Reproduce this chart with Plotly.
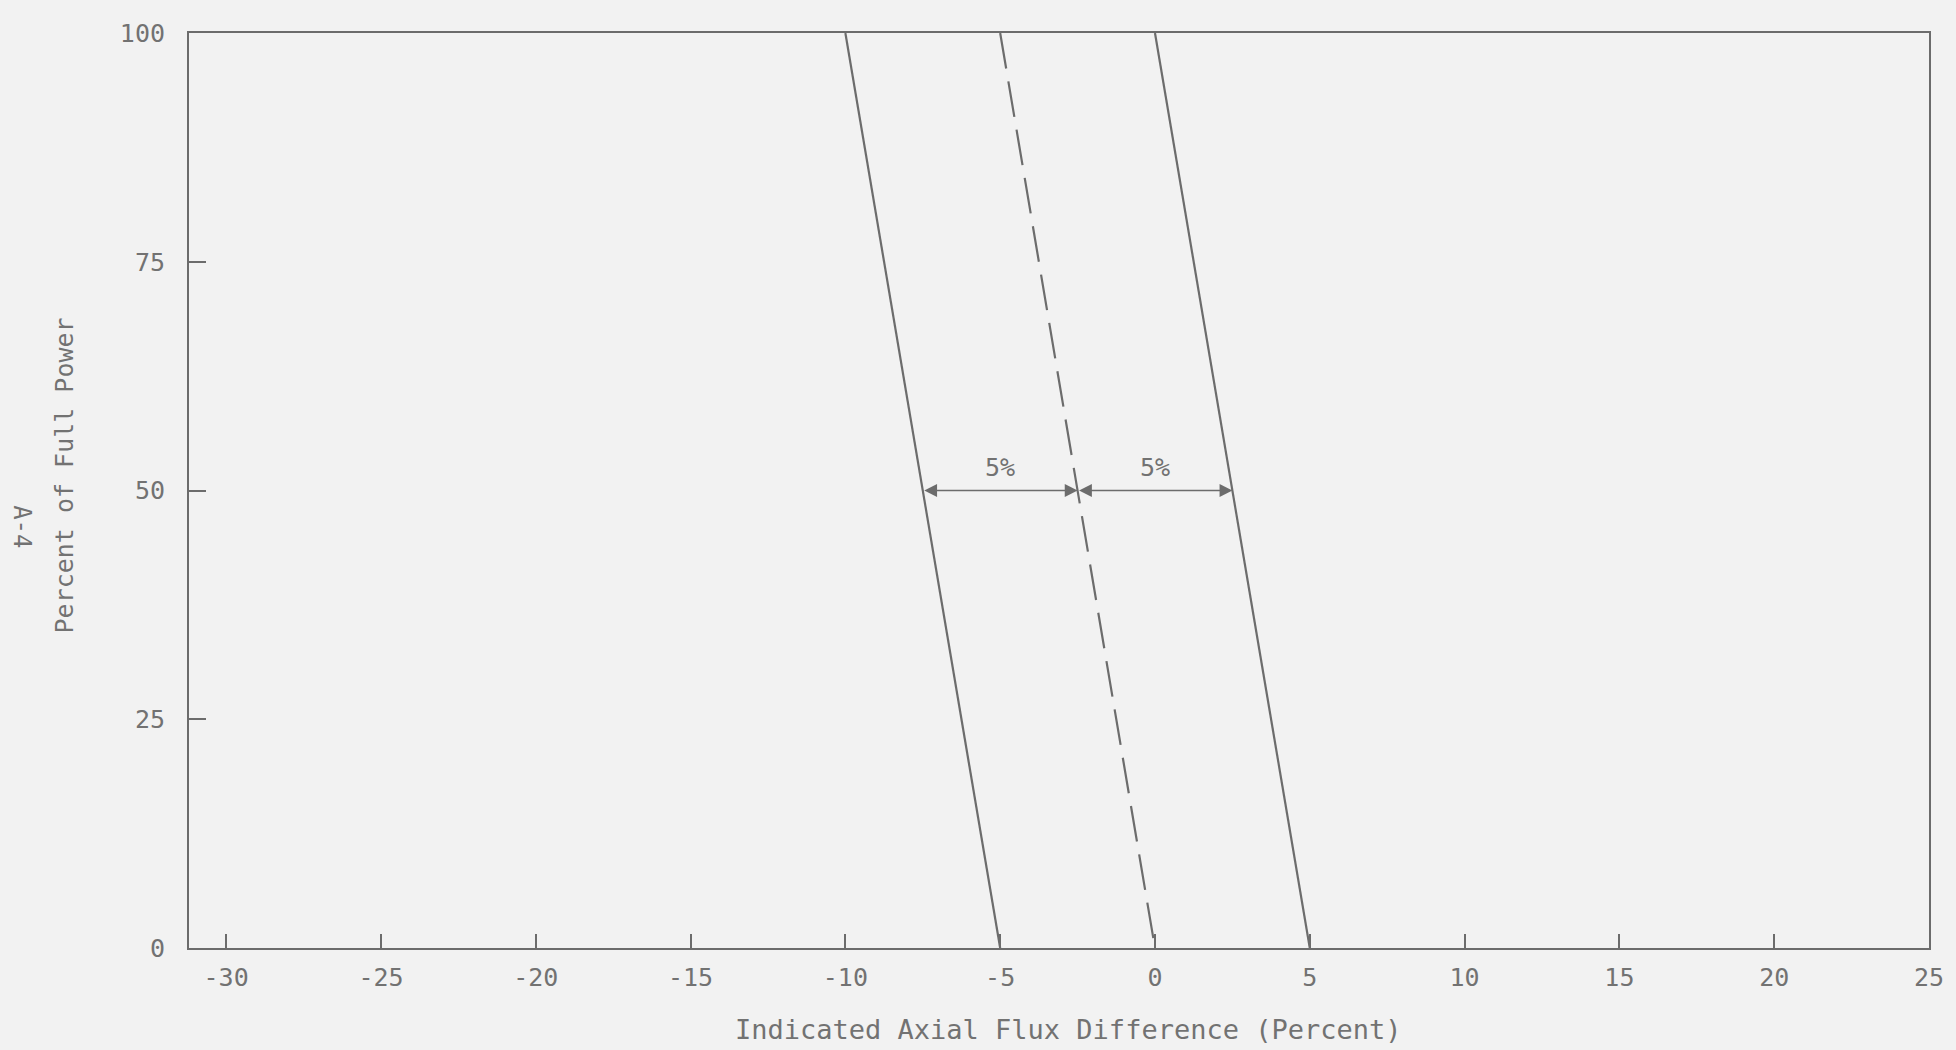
import plotly.graph_objects as go

# Data
power = [0, 100]                      # Percent of Full Power
lower_limit = [-5, -10]               # left solid band edge (AFD at 0%, 100% power)
target = [0, -5]                      # dashed target line
upper_limit = [5, 0]                  # right solid band edge
band_y = 50
band_x = [-7.5, -2.5, 2.5]            # arrow endpoints at 50% power
band_labels = ["5%", "5%"]
label_x = [-5, 0]
x_ticks = [-30, -25, -20, -15, -10, -5, 0, 5, 10, 15, 20, 25]
y_ticks = [0, 25, 50, 75, 100]

LINE = "#6c6c6c"
TEXT = "#727272"
BG = "#f2f2f2"
FONT = "DejaVu Sans Mono"

fig = go.Figure()
fig.add_trace(go.Scatter(x=lower_limit, y=power, mode="lines",
                         line=dict(color=LINE, width=2.2), showlegend=False))
# dashed line drawn from the top so the first dash meets the frame
fig.add_trace(go.Scatter(x=target[::-1], y=power[::-1], mode="lines",
                         line=dict(color=LINE, width=2.2, dash="36px,13px"), showlegend=False))
fig.add_trace(go.Scatter(x=upper_limit, y=power, mode="lines",
                         line=dict(color=LINE, width=2.2), showlegend=False))

for i in range(2):
    fig.add_annotation(x=band_x[i + 1], y=band_y, ax=band_x[i], ay=band_y,
                       xref="x", yref="y", axref="x", ayref="y",
                       text="", showarrow=True, arrowside="end+start",
                       arrowhead=2, arrowsize=1.6, arrowwidth=1.6, arrowcolor=LINE)
    fig.add_annotation(x=label_x[i], y=band_y + 2.5, xref="x", yref="y",
                       text=band_labels[i], showarrow=False,
                       xanchor="center", yanchor="middle",
                       font=dict(family=FONT, size=25, color=TEXT))

fig.add_annotation(xref="paper", yref="paper", x=-0.0715, y=0.516,
                   text="Percent of Full Power", textangle=-90, showarrow=False,
                   xanchor="center", yanchor="middle",
                   font=dict(family=FONT, size=25, color=TEXT))
fig.add_annotation(xref="paper", yref="paper", x=-0.096, y=0.46,
                   text="A-4", textangle=90, showarrow=False,
                   xanchor="center", yanchor="middle",
                   font=dict(family=FONT, size=24, color=TEXT))
fig.add_annotation(xref="paper", yref="paper", x=0.505, y=-0.0896,
                   text="Indicated Axial Flux Difference (Percent)", showarrow=False,
                   xanchor="center", yanchor="middle",
                   font=dict(family=FONT, size=27, color=TEXT))

fig.update_xaxes(range=[-31.2, 25], tickvals=x_ticks, ticktext=[str(v) for v in x_ticks],
                 showgrid=False, zeroline=False, showline=True, linecolor=LINE, linewidth=2,
                 mirror=True, ticks="inside", ticklen=14, tickwidth=2, tickcolor=LINE,
                 tickfont=dict(family=FONT, size=25, color=TEXT), ticklabelstandoff=6)
fig.update_yaxes(range=[0, 100], tickvals=y_ticks, ticktext=[str(v) for v in y_ticks],
                 showgrid=False, zeroline=False, showline=True, linecolor=LINE, linewidth=2,
                 mirror=True, ticks="inside", ticklen=17, tickwidth=2, tickcolor=LINE,
                 tickfont=dict(family=FONT, size=25, color=TEXT), ticklabelstandoff=17)

fig.update_layout(width=1956, height=1050, autosize=False,
                  margin=dict(l=189, r=21, t=33, b=102),
                  paper_bgcolor=BG, plot_bgcolor=BG, showlegend=False)

fig.write_html("out.html", config={"displayModeBar": False},
               post_script="document.body.style.margin='0';"
                           "document.body.style.background='#f2f2f2';")
